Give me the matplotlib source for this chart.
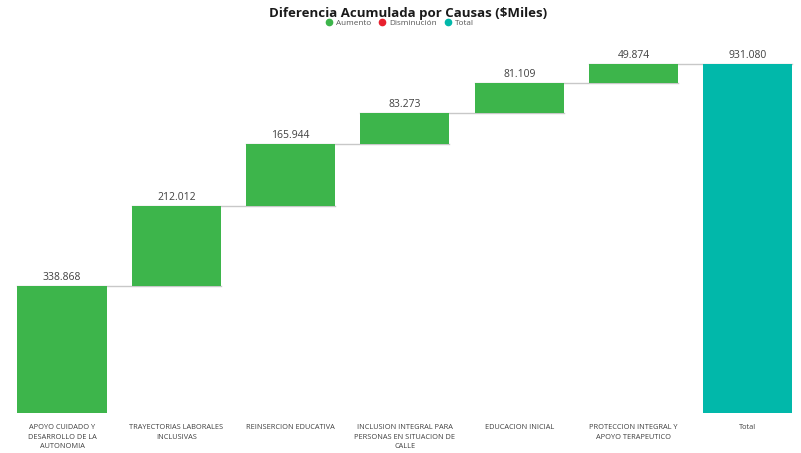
import matplotlib

matplotlib.use("Agg")
import matplotlib.pyplot as plt
from matplotlib.lines import Line2D
import numpy as np

# Diferencia acumulada por causas, en $ miles
categorias = [
    "APOYO CUIDADO Y\nDESARROLLO DE LA\nAUTONOMIA",
    "TRAYECTORIAS LABORALES\nINCLUSIVAS",
    "REINSERCION EDUCATIVA",
    "INCLUSION INTEGRAL PARA\nPERSONAS EN SITUACION DE\nCALLE",
    "EDUCACION INICIAL",
    "PROTECCION INTEGRAL Y\nAPOYO TERAPEUTICO",
]
valores = [338868, 212012, 165944, 83273, 81109, 49874]
etiqueta_total = "Total"

VERDE = "#3DB54B"
ROJO = "#E8202E"
TEAL = "#01B8AA"
TEXTO = "#404040"


def fmt(v):
    return f"{v:,.0f}".replace(",", ".")


plt.rcParams["font.family"] = ["Open Sans", "DejaVu Sans"]

fig = plt.figure(figsize=(8.01, 4.53), dpi=100)
fig.patch.set_facecolor("white")
ax = fig.add_axes([0.006, 0.088, 0.999, 0.824])

total = sum(valores)
n = len(valores)
x = np.arange(n + 1)
ancho = 0.78

base = np.concatenate([[0], np.cumsum(valores)[:-1]])
ax.bar(x[:n], valores, bottom=base, width=ancho, color=VERDE, zorder=2)
ax.bar(x[n], total, width=ancho, color=TEAL, zorder=2)

tops = list(base + np.array(valores)) + [total]
for i in range(n):
    ax.plot([x[i] - ancho / 2, x[i + 1] + ancho / 2], [tops[i], tops[i]],
            color="#C8C8C8", lw=1.0, zorder=1)

for i, v in enumerate(valores + [total]):
    ax.text(x[i], tops[i] + 8000, fmt(v), ha="center", va="bottom",
            fontsize=7.5, color=TEXTO)

ax.set_xlim(-0.5, n + 0.5)
ax.set_ylim(0, total * 373 / 349)
ax.set_xticks(x)
ax.set_xticklabels(categorias + [etiqueta_total], fontsize=5.3, color=TEXTO,
                   linespacing=1.5)
ax.tick_params(axis="x", length=0, pad=8)
ax.set_yticks([])
for s in ax.spines.values():
    s.set_visible(False)

fig.text(0.509, 0.971, "Diferencia Acumulada por Causas ($Miles)", ha="center",
         va="center", fontsize=9.5, fontweight="bold", color="#1a1a1a")

handles = [Line2D([], [], marker="o", ls="", color=c, markersize=4.5)
           for c in (VERDE, ROJO, TEAL)]
fig.legend(handles, ["Aumento", "Disminución", "Total"], loc="center",
           bbox_to_anchor=(0.496, 0.949), ncol=3, frameon=False, fontsize=5.9,
           handletextpad=-0.1, columnspacing=0.3, labelcolor="#555555")

fig.savefig("out.png", dpi=100, facecolor="white")
